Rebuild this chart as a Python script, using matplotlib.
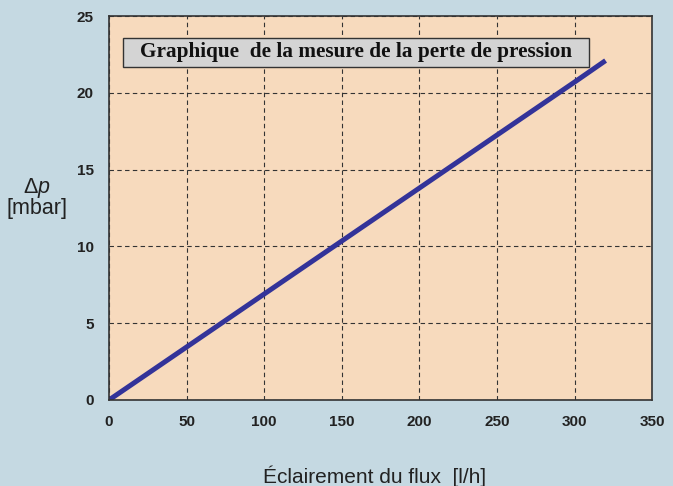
import matplotlib.pyplot as plt
from matplotlib.patches import Rectangle

plt.rcParams["mathtext.fontset"] = "custom"
plt.rcParams["mathtext.rm"] = "Liberation Sans"
plt.rcParams["mathtext.it"] = "Liberation Sans:italic"

# Donnees
debit = [0, 50, 100, 150, 200, 250, 300, 320]
perte_pression = [0, 3.45, 6.9, 10.35, 13.8, 17.25, 20.7, 22.1]
x_ticks = [0, 50, 100, 150, 200, 250, 300, 350]
y_ticks = [0, 5, 10, 15, 20, 25]

fig = plt.figure(figsize=(6.73, 4.86), dpi=100)
fig.patch.set_facecolor("#c5d9e2")
ax = fig.add_axes([0.162, 0.177, 0.807, 0.790])
ax.set_facecolor("#f7dabd")

ax.plot(debit, perte_pression, color="#333399", linewidth=3.6, solid_capstyle="butt")

ax.set_xlim(0, 350)
ax.set_ylim(0, 25)
ax.set_xticks(x_ticks)
ax.set_yticks(y_ticks)
ax.grid(True, color="#333333", linestyle=(0, (4, 3)), linewidth=0.8)
ax.tick_params(length=0, labelsize=11)
ax.tick_params(axis="x", pad=11)
ax.tick_params(axis="y", pad=11)
for lab in ax.get_xticklabels() + ax.get_yticklabels():
    lab.set_fontweight("bold")
    lab.set_family("Liberation Sans")
    lab.set_color("#222222")
for s in ax.spines.values():
    s.set_color("#333333")
    s.set_linewidth(1.2)

# Cadre du titre
ax.add_patch(Rectangle((0.026, 0.868), 0.858, 0.076, transform=ax.transAxes,
                       facecolor="#d4d4d4", edgecolor="#333333", linewidth=1, zorder=3))
ax.text(0.455, 0.906, "Graphique  de la mesure de la perte de pression",
        transform=ax.transAxes, ha="center", va="center", zorder=4,
        family="Liberation Serif", fontweight="bold", fontsize=15.3, color="#111111")

fig.text(0.055, 0.603, r"$\Delta\mathit{p}$", ha="center", va="baseline",
         fontsize=15.5, color="#222222")
fig.text(0.055, 0.572, "[mbar]", ha="center", va="center",
         family="Liberation Sans", fontsize=15.5, color="#222222")
fig.text(0.556, 0.006, "Éclairement du flux  [l/h]", ha="center", va="baseline",
         family="Liberation Sans", fontsize=15, color="#222222")

fig.savefig("out.png", dpi=100, facecolor=fig.get_facecolor())
